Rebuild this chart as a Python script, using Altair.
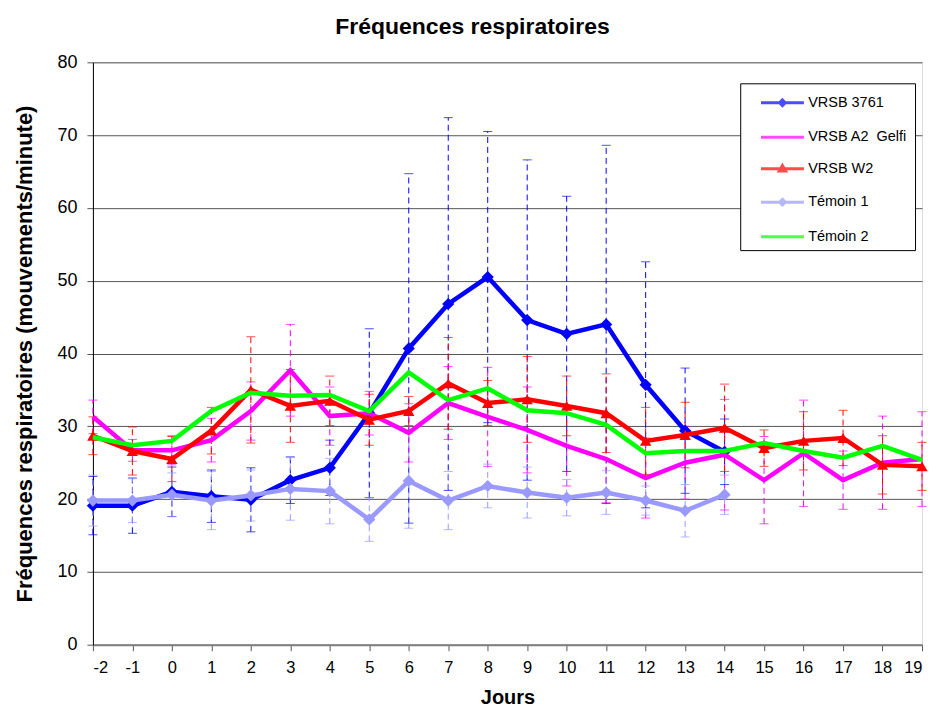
import altair as alt
import pandas as pd

# ---------------- data ----------------
days = list(range(-2, 20))
yticks = list(range(0, 81, 10))

series = ["VRSB 3761", "VRSB A2\u00a0 Gelfi", "VRSB W2", "Témoin 1", "Témoin 2"]
colors = ["#0000FF", "#FF00FF", "#FF0000", "#9999FF", "#00FF00"]
markers = ["diamond", None, "triangle-up", "diamond", None]

# VRSB 3761 : days -2 .. 14
v3761 = [19.1, 19.1, 21.0, 20.4, 19.9, 22.6, 24.3, 31.8, 40.7, 46.8, 50.5,
         44.6, 42.7, 44.0, 35.7, 29.4, 26.5]
e3761 = [4.0, 3.8, 3.4, 3.6, 4.4, 3.2, 3.8, 11.6, 24.0, 25.6, 20.0,
         22.0, 18.9, 24.6, 16.9, 8.6, 4.5]
# VRSB A2 Gelfi : days -2 .. 19
vA2 = [31.3, 26.7, 26.7, 28.1, 32.1, 37.7, 31.4, 31.8, 29.1, 33.2, 31.3,
       29.5, 27.3, 25.5, 22.9, 25.0, 26.1, 22.6, 26.3, 22.6, 25.0, 25.5]
eA2 = [2.3, 1.5, 2.0, 3.0, 4.0, 6.3, 4.0, 3.0, 4.0, 5.0, 6.8,
       5.9, 5.5, 6.0, 5.5, 5.0, 7.6, 6.0, 7.3, 4.0, 6.4, 6.5]
# VRSB W2 : days -2 .. 19
vW2 = [28.7, 26.6, 25.5, 29.4, 35.0, 32.8, 33.5, 30.9, 32.1, 35.9, 33.2,
       33.7, 32.8, 31.8, 28.0, 28.8, 29.8, 27.0, 28.0, 28.4, 24.7, 24.5]
eW2 = [2.6, 3.3, 3.1, 3.2, 7.3, 5.0, 3.4, 3.5, 2.0, 6.3, 3.1,
       5.9, 4.1, 5.4, 4.6, 4.5, 6.0, 2.5, 4.0, 3.8, 4.0, 3.3]
# Témoin 1 : days -2 .. 14
vT1 = [19.8, 19.8, 20.6, 19.8, 20.5, 21.4, 21.1, 17.2, 22.5, 19.8, 21.8,
       20.9, 20.2, 20.9, 19.8, 18.4, 20.6]
eT1 = [3.5, 3.0, 3.0, 4.0, 3.5, 4.3, 4.5, 3.0, 6.5, 4.0, 3.0,
       3.5, 2.5, 3.0, 2.0, 3.6, 2.7]
# Témoin 2 : days -2 .. 19 (no error bars)
vT2 = [28.5, 27.4, 28.0, 32.1, 34.6, 34.2, 34.3, 32.1, 37.4, 33.6, 35.2,
       32.2, 31.8, 30.2, 26.3, 26.6, 26.6, 27.7, 26.6, 25.7, 27.3, 25.4]
eT2 = [None] * len(vT2)

values = [v3761, vA2, vW2, vT1, vT2]
errors = [e3761, eA2, eW2, eT1, eT2]

rows = []
for name, vals, errs in zip(series, values, errors):
    for d, v, e in zip(days, vals, errs):
        rows.append({"series": name, "day": d, "value": v,
                     "lo": (v - e) if e is not None else None,
                     "hi": (v + e) if e is not None else None})
df = pd.DataFrame(rows)
err_df = df.dropna(subset=["lo"])

FONT = "Liberation Sans"

# legend symbols: a line with the series marker in its middle
legend_paths = [
    "M0.12,0H4.12M2.12,-0.26L2.38,0L2.12,0.26L1.86,0Z",
    "M0.12,0H4.12",
    "M0.12,0H4.12M2.12,-0.3L2.42,0.22L1.82,0.22Z",
    "M0.12,0H4.12M2.12,-0.26L2.38,0L2.12,0.26L1.86,0Z",
    "M0.12,0H4.12",
]

xscale = alt.Scale(domain=[-2, 19], nice=False, zero=False)
yscale = alt.Scale(domain=[0, 80], nice=False)
cscale = alt.Scale(domain=series, range=colors)

X = alt.X("day:Q", scale=xscale,
          axis=alt.Axis(values=days, labelExpr="'' + datum.value", title="Jours", grid=False,
                        labelFontSize=16.5, titleFontSize=20, titleFontWeight="bold",
                        labelPadding=9, tickSize=6, titlePadding=11,
                        domainColor="#808080", domainWidth=2, tickColor="#555555",
                        labelColor="black", titleColor="black", labelFont=FONT,
                        titleFont=FONT))
Y = alt.Y("value:Q", scale=yscale,
          axis=alt.Axis(values=yticks, title="Fréquences respiratoires (mouvements/minute)",
                        grid=True, gridColor="#555555", gridWidth=1,
                        labelFontSize=18, titleFontSize=22, titleFontWeight="bold",
                        labelPadding=10, tickSize=6, titlePadding=20,
                        domainColor="black", tickColor="#555555",
                        labelColor="black", titleColor="black", labelFont=FONT,
                        titleFont=FONT))

legend = alt.Legend(title=None, orient="none", legendX=648, legendY=21,
                    strokeColor="black", fillColor="white", padding=7,
                    symbolSize=462, symbolStrokeWidth=3,
                    labelFontSize=14.5, labelFont=FONT, labelColor="black",
                    labelOffset=36, rowPadding=12.5,
                    labelExpr="datum.label == 'VRSB A2\u00a0 Gelfi' ? datum.label + '\u00a0\u00a0\u00a0\u00a0\u00a0\u00a0\u00a0' : datum.label")

# legend carrier (first layer): points sit below the y range and are clipped away
leg_df = pd.DataFrame({"series": series, "day": [0] * 5, "value": [-50] * 5})
legend_layer = alt.Chart(leg_df).mark_point(filled=False, size=462, strokeWidth=3,
                                            clip=True).encode(
    x=X, y=Y,
    color=alt.Color("series:N", scale=cscale, legend=legend),
    shape=alt.Shape("series:N", scale=alt.Scale(domain=series, range=legend_paths),
                    legend=legend),
)

layers = [legend_layer]

# error bars (dashed, with caps)
err_base = alt.Chart(err_df)
layers.append(err_base.mark_rule(strokeDash=[6, 4], strokeWidth=1).encode(
    x=X, y=alt.Y("lo:Q", scale=yscale), y2="hi:Q",
    color=alt.Color("series:N", scale=cscale, legend=None)))
for fld in ["lo", "hi"]:
    layers.append(err_base.mark_tick(orient="horizontal", size=9, thickness=1).encode(
        x=X, y=alt.Y(f"{fld}:Q", scale=yscale),
        color=alt.Color("series:N", scale=cscale, legend=None)))

# lines + markers, in series order
for name, mk in zip(series, markers):
    sub = alt.Chart(df[df["series"] == name])
    layers.append(sub.mark_line(strokeWidth=4.5).encode(
        x=X, y=Y, color=alt.Color("series:N", scale=cscale, legend=None)))
    if mk:
        layers.append(sub.mark_point(shape=mk, filled=True,
                                     size=150 if mk == "diamond" else 130,
                                     opacity=1).encode(
            x=X, y=Y, color=alt.Color("series:N", scale=cscale, legend=None)))

chart = alt.layer(*layers).properties(
    width=830, height=583,
    padding={"left": 5, "top": 8, "right": 0, "bottom": 0},
    title=alt.TitleParams("Fréquences respiratoires", fontSize=23, fontWeight="bold",
                          font=FONT, color="black", frame="bounds", anchor="middle",
                          offset=14),
).configure_view(stroke=None).configure(background="white")

chart.save("out.html", embed_options={"renderer": "svg", "actions": False})
